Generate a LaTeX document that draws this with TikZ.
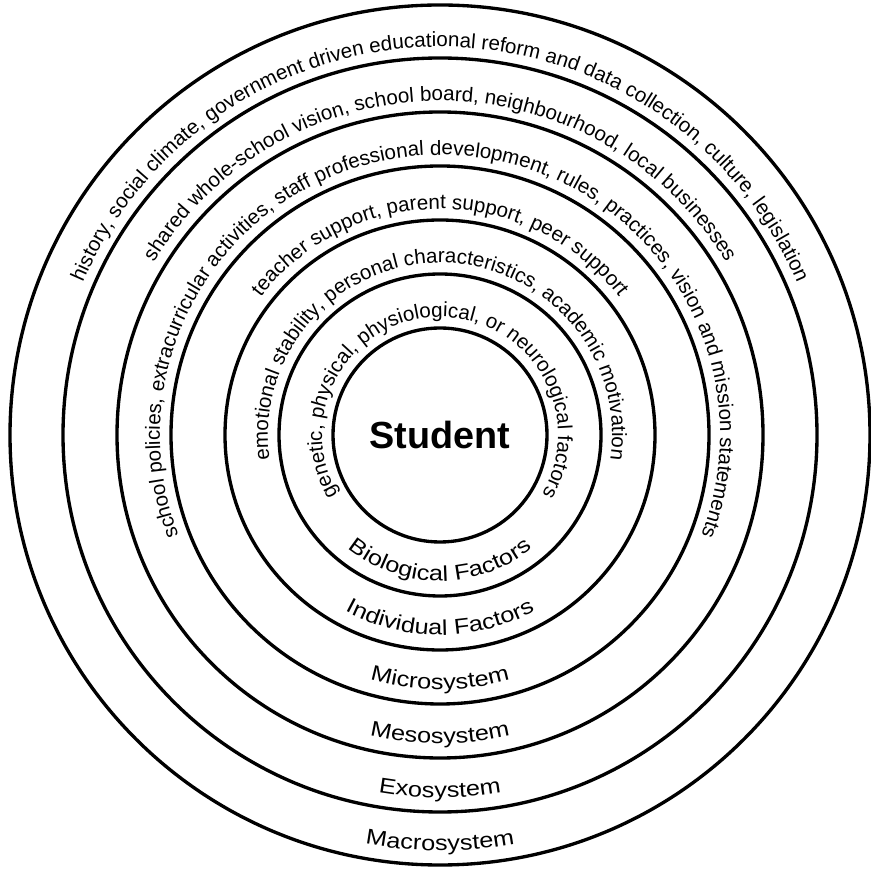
\documentclass[tikz,border=0pt]{standalone}
\usepackage{fontspec}
\setmainfont{Liberation Sans}
\newfontfamily\descfont{Liberation Sans}
\newfontfamily\labelfont[FakeStretch=1.18]{Liberation Sans}
\usetikzlibrary{decorations.text}

\newcommand\descstyle{\descfont\fontsize{11.7}{14}\selectfont}
\newcommand\labelstyle{\labelfont\fontsize{12.2}{14}\selectfont}

\begin{document}
\begin{tikzpicture}
    [ ring/.style={line width=1.9pt}
    , toptext/.style={decorate, decoration={text along path, text align=center, text={|\descstyle|#1}}}
    , bottext/.style={decorate, decoration={text along path, text align=center, text={|\labelstyle|#1}}}
    ]
\useasboundingbox (-8.8,-8.72) rectangle (8.62,8.70);
\foreach \r in {2.14,3.22,4.30,5.38,6.46,7.54,8.60}
    \draw[ring] (0,0) circle[radius=\r];
\node (student) at (0,0) {\fontsize{21.5}{24}\selectfont\bfseries Student};

% what each ring holds, along the top
\path[toptext={history, social climate, government driven educational reform and data collection, culture, legislation}]
    (260:7.76) arc[start angle=260, end angle=-80, radius=7.76];
\path[toptext={shared whole-school vision, school board, neighbourhood, local businesses}]
    (260:6.68) arc[start angle=260, end angle=-80, radius=6.68];
\path[toptext={school policies, extracurricular activities, staff professional development, rules, practices, vision and mission statements}]
    (260:5.60) arc[start angle=260, end angle=-80, radius=5.60];
\path[toptext={teacher support, parent support, peer support}]
    (260:4.52) arc[start angle=260, end angle=-80, radius=4.52];
\path[toptext={emotional stability, personal characteristics, academic motivation}]
    (260:3.44) arc[start angle=260, end angle=-80, radius=3.44];
\path[toptext={genetic, physical, physiological, or neurological factors}]
    (260:2.36) arc[start angle=260, end angle=-80, radius=2.36];

% ring names, along the bottom
\path[bottext={Macrosystem}] (100:8.31) arc[start angle=100, end angle=440, radius=8.31];
\path[bottext={Exosystem}] (100:7.25) arc[start angle=100, end angle=440, radius=7.25];
\path[bottext={Mesosystem}] (100:6.17) arc[start angle=100, end angle=440, radius=6.17];
\path[bottext={Microsystem}] (100:5.09) arc[start angle=100, end angle=440, radius=5.09];
\path[bottext={Individual Factors}] (100:4.00) arc[start angle=100, end angle=440, radius=4.00];
\path[bottext={Biological Factors}] (100:2.92) arc[start angle=100, end angle=440, radius=2.92];

\end{tikzpicture}
\end{document}
